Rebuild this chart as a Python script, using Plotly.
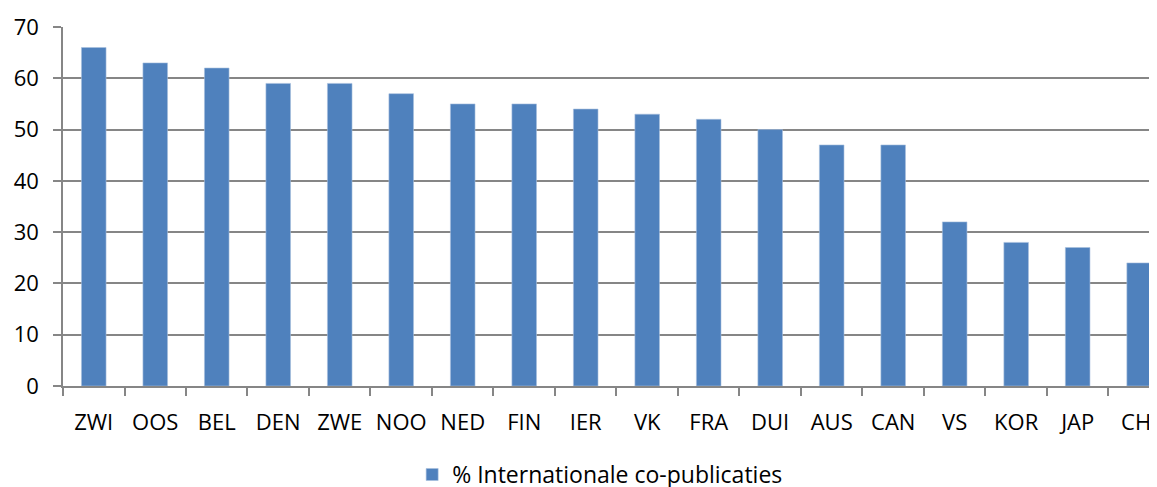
import plotly.graph_objects as go

categories = ["ZWI", "OOS", "BEL", "DEN", "ZWE", "NOO", "NED", "FIN", "IER",
              "VK", "FRA", "DUI", "AUS", "CAN", "VS", "KOR", "JAP", "CHI"]
values = [66, 63, 62, 59, 59, 57, 55, 55, 54, 53, 52, 50, 47, 47, 32, 28, 27, 24]
series_name = "% Internationale co-publicaties"

grid = "#868686"
font = "Open Sans"
fs = 22

fig = go.Figure()
fig.add_trace(go.Bar(
    x=categories, y=values, name=series_name,
    marker=dict(color="#4F81BD", line=dict(color="#A7BFDE", width=0.6)),
    showlegend=True,
))

fig.update_layout(
    width=1149, height=479,
    margin=dict(l=55, r=0, t=19, b=101, autoexpand=False),
    paper_bgcolor="white", plot_bgcolor="white",
    bargap=0.6,
    showlegend=True,
    legend=dict(orientation="h", x=0.491, xanchor="center",
                yref="container", y=0.026, yanchor="middle",
                font=dict(family=font, size=23, color="#000000"),
                itemwidth=30),
    font=dict(family=font, size=fs, color="#000000"),
)
fig.update_xaxes(
    range=[-0.5, 17.29], showgrid=False,
    showline=True, linecolor=grid, linewidth=1.5,
    ticks="outside", tickson="boundaries", ticklen=8, tickcolor=grid, tickwidth=1.5,
    tickfont=dict(family=font, size=fs, color="#000000"),
    tickangle=0,
    ticklabelstandoff=16, automargin=False,
)
fig.update_yaxes(
    range=[0, 70], dtick=10, showgrid=True, gridcolor=grid, gridwidth=1.5,
    showline=True, linecolor=grid, linewidth=1.5,
    ticks="outside", ticklen=8, tickcolor=grid, tickwidth=1.5,
    tickfont=dict(family=font, size=fs, color="#000000"),
    ticklabelstandoff=10, zeroline=False, automargin=False,
)

fig.write_html("out.html")
